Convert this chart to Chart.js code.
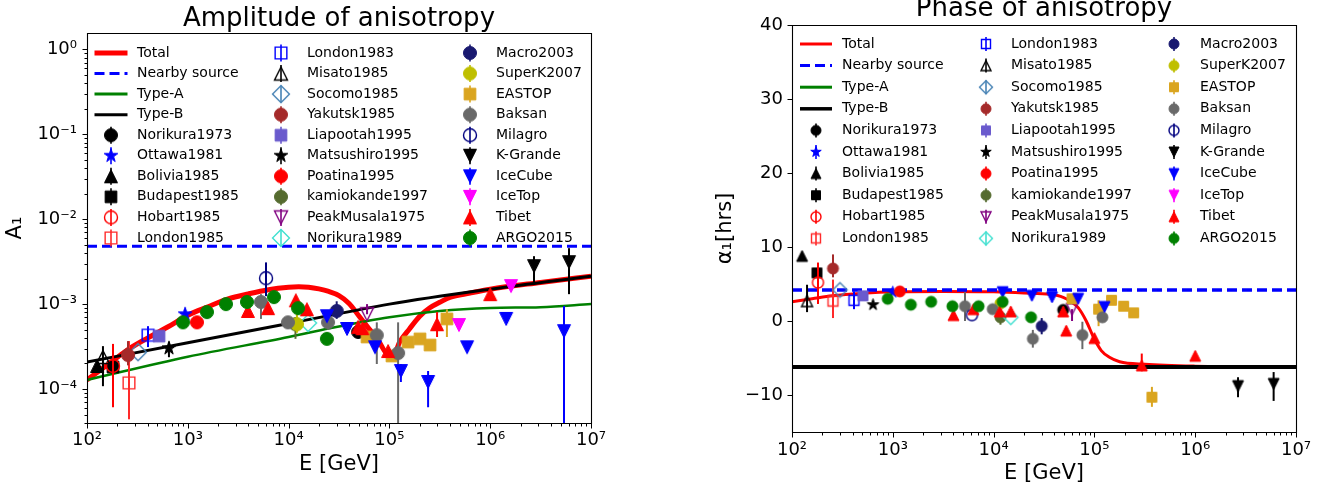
<!DOCTYPE html>
<html>
<head>
<meta charset="utf-8">
<title>Amplitude and phase of anisotropy</title>
<script src="https://cdn.jsdelivr.net/npm/chart.js@4.4.1/dist/chart.umd.min.js"></script>
<style>
  html, body { margin: 0; padding: 0; background: #ffffff; }
  #wrap { position: relative; width: 1325px; height: 488px; overflow: hidden; background: #fff; }
  #ampChart { position: absolute; left: 0; top: 0; width: 660px; height: 488px; }
  #phaseChart { position: absolute; left: 660px; top: 0; width: 665px; height: 488px; }
</style>
</head>
<body>
<div id="wrap">
  <canvas id="ampChart" width="660" height="488"></canvas>
  <canvas id="phaseChart" width="665" height="488"></canvas>
</div>
<script>
// ---------------- DATA ----------------
const lineNames = ['Total', 'Nearby source', 'Type-A', 'Type-B'];
const seriesNames = ['Norikura1973','Ottawa1981','Bolivia1985','Budapest1985','Hobart1985','London1985',
  'London1983','Misato1985','Socomo1985','Yakutsk1985','Liapootah1995','Matsushiro1995','Poatina1995',
  'kamiokande1997','PeakMusala1975','Norikura1989','Macro2003','SuperK2007','EASTOP','Baksan','Milagro',
  'K-Grande','IceCube','IceTop','Tibet','ARGO2015'];

const xRange = [1e2, 1e7];
const xTickValues = [1e2, 1e3, 1e4, 1e5, 1e6, 1e7];
const xTickLabels = ['10²', '10³', '10⁴', '10⁵', '10⁶', '10⁷'];
const ampRange = [3.98e-5, 1.56];
const ampTickValues = [1e-4, 1e-3, 1e-2, 1e-1, 1];
const ampTickLabels = ['10⁻⁴', '10⁻³', '10⁻²', '10⁻¹', '10⁰'];
const phaseRange = [-15, 40];
const phaseTickValues = [-10, 0, 10, 20, 30, 40];
const phaseTickLabels = ['−10', '0', '10', '20', '30', '40'];

// model curves: amplitude
const ampTotalE = [100,158,251,398,631,1000,1585,2512,3981,6310,1e4,1.26e4,1.58e4,2e4,2.5e4,3.16e4,3.98e4,5.01e4,6.31e4,7.94e4,9.55e4,1.1e5,1.26e5,1.58e5,2e5,2.5e5,3.16e5,3.98e5,6.31e5,1e6,3.16e6,1e7];
const ampTotal = [1.28e-4,1.9e-4,2.88e-4,3.98e-4,5.37e-4,7.4e-4,9.3e-4,1.15e-3,1.32e-3,1.48e-3,1.58e-3,1.6e-3,1.58e-3,1.51e-3,1.41e-3,1.26e-3,1.02e-3,7.2e-4,5.1e-4,3.55e-4,2.57e-4,2.5e-4,3.55e-4,5.1e-4,7.2e-4,9.0e-4,1.05e-3,1.2e-3,1.35e-3,1.5e-3,1.8e-3,2.13e-3];
const ampNearbyE = [1e2, 1e7];
const ampNearby = [4.8e-3, 4.8e-3];
const ampTypeAE = [100, 1000, 1e4, 2.57e4, 1e5, 3.16e5, 1e6, 3.16e6, 1e7];
const ampTypeA = [1.28e-4, 2.4e-4, 4.1e-4, 5.2e-4, 7.0e-4, 8.3e-4, 9.0e-4, 9.2e-4, 1.0e-3];
const ampTypeBE = [100, 1000, 1e4, 1e5, 1e6, 1e7];
const ampTypeB = [2.08e-4, 3.5e-4, 5.9e-4, 1.0e-3, 1.5e-3, 2.13e-3];

// model curves: phase
const phaseTotalE = [100,158,251,501,1000,3162,1e4,2e4,3.63e4,4.9e4,5.75e4,6.9e4,8.3e4,9.8e4,1.17e5,1.41e5,1.78e5,3.16e5,1e6,1e7];
const phaseTotal = [2.6,3.0,3.4,3.75,3.95,4.0,3.95,3.8,3.6,3.2,2.7,1.8,0.0,-2.2,-4.0,-4.9,-5.5,-5.85,-6.1,-6.2];
const phaseNearbyE = [1e2, 1e7];
const phaseNearby = [4.2, 4.2];
const phaseTypeAE = [1e2, 1e7];
const phaseTypeA = [-6.2, -6.2];
const phaseTypeBE = [1e2, 1e7];
const phaseTypeB = [-6.2, -6.2];

// amplitude measurements: [E (GeV), A1, lower, upper]
const ampNorikura1973 = [[4.9e4, 4.7e-4]];
const ampOttawa1981 = [[940, 7.6e-4, 6.3e-4, 8.7e-4]];
const ampBolivia1985 = [[126, 1.87e-4]];
const ampBudapest1985 = [[181, 1.82e-4]];
const ampHobart1985 = [[181, 1.87e-4, 6.1e-5, 3.4e-4]];
const ampLondon1985 = [[261, 1.18e-4, 4.4e-5, 3.67e-4]];
const ampLondon1983 = [[403, 4.3e-4, 3.12e-4, 5.5e-4]];
const ampMisato1985 = [[144, 2.38e-4, 1.08e-4, 3.2e-4]];
const ampSocomo1985 = [[321, 2.72e-4]];
const ampYakutsk1985 = [[255, 2.51e-4, 1.9e-4, 3.67e-4]];
const ampLiapootah1995 = [[518, 4.2e-4]];
const ampMatsushiro1995 = [[650, 3.03e-4, 2.37e-4, 3.6e-4]];
const ampPoatina1995 = [[1233, 6.1e-4]];
const ampKamiokande1997 = [[1.17e4, 5.8e-4, 3.9e-4, 7.0e-4]];
const ampPeakMusala1975 = [[6.0e4, 7.6e-4, 7.6e-4, 1.0e-3]];
const ampNorikura1989 = [[1.56e4, 6.0e-4]];
const ampMacro2003 = [[3.0e4, 8.3e-4, 6.7e-4, 1.08e-3]];
const ampSuperK2007 = [[1.21e4, 5.8e-4, 4.6e-4, 7.6e-4]];
const ampEASTOP = [[6.0e4, 4.1e-4], [1.06e5, 2.45e-4], [1.53e5, 3.57e-4], [2.01e5, 3.9e-4], [2.53e5, 3.3e-4, 2.9e-4, 3.6e-4], [3.72e5, 6.7e-4, 4.1e-4, 8.7e-4]];
const ampBaksan = [[5320, 1.06e-3, 6.7e-4, 1.31e-3], [9860, 6.1e-4], [2.46e4, 6.1e-4, 5.0e-4, 7.2e-4], [7.5e4, 4.3e-4, 1.97e-4, 6.1e-4], [1.22e5, 2.65e-4, 1e-5, 6.1e-4]];
const ampMilagro = [[5970, 2.02e-3, 1.24e-3, 3.1e-3]];
const ampKGrande = [[2.72e6, 2.8e-3, 1.82e-3, 3.67e-3], [6.05e6, 3.12e-3, 1.31e-3, 4.56e-3]];
const ampIceCube = [[2.4e4, 7.2e-4], [3.8e4, 5.1e-4], [7.2e4, 3.1e-4], [1.3e5, 1.63e-4, 1.21e-4, 1.97e-4], [2.42e5, 1.21e-4, 6.1e-5, 1.63e-4], [5.9e5, 3.1e-4], [1.44e6, 6.7e-4], [5.4e6, 4.8e-4, 1e-5, 9.5e-4]];
const ampIceTop = [[4.9e5, 5.67e-4], [1.61e6, 1.63e-3]];
const ampTibet = [[3950, 8.3e-4], [6250, 8.97e-4], [1.18e4, 1.11e-3], [1.52e4, 8.7e-4], [4.9e4, 5.4e-4], [5.4e4, 5.2e-4], [9.7e4, 2.8e-4], [2.97e5, 5.8e-4, 4.1e-4, 8.05e-4], [1.0e6, 1.31e-3]];
const ampARGO2015 = [[896, 6.1e-4], [1549, 8.05e-4], [2393, 1.0e-3], [3865, 1.06e-3], [7160, 1.21e-3], [1.24e4, 8.97e-4], [2.4e4, 3.9e-4]];

// phase measurements: [E (GeV), alpha1 (hrs), lower, upper]
const phNorikura1973 = [[4.9e4, 1.5]];
const phOttawa1981 = [[1000, 3.9]];
const phBolivia1985 = [[126, 8.8]];
const phBudapest1985 = [[177, 6.5]];
const phHobart1985 = [[181, 5.2, 2.3, 7.9]];
const phLondon1985 = [[255, 2.7, 0.4, 5.6]];
const phLondon1983 = [[412, 2.8, 1.6, 4.0]];
const phMisato1985 = [[141, 2.7, 1.2, 4.9]];
const phSocomo1985 = [[299, 4.2]];
const phYakutsk1985 = [[255, 7.1, 5.9, 9.0]];
const phLiapootah1995 = [[506, 3.4]];
const phMatsushiro1995 = [[637, 2.2]];
const phPoatina1995 = [[1175, 4.0]];
const phKamiokande1997 = [[1.17e4, 0.5, -0.5, 1.5]];
const phPeakMusala1975 = [[6.0e4, 1.6, 0.0, 1.6]];
const phNorikura1989 = [[1.48e4, 0.5]];
const phMacro2003 = [[3.0e4, -0.7, -1.8, 0.4]];
const phSuperK2007 = [[1.17e4, 2.4]];
const phEASTOP = [[6.0e4, 3.0], [1.1e5, 1.6, -0.7, 2.8], [1.48e5, 2.8], [1.95e5, 2.0], [2.45e5, 1.1], [3.72e5, -10.3, -11.6, -8.9]];
const phBaksan = [[5200, 2.0, 0.0, 3.9], [9800, 1.6], [2.45e4, -2.4, -3.6, -1.2], [7.6e4, -1.9, -3.8, -0.1], [1.2e5, 0.5]];
const phMilagro = [[6100, 0.8]];
const phKGrande = [[2.66e6, -8.8, -10.3, -7.6], [6.0e6, -8.5, -10.8, -6.9]];
const phIceCube = [[1.23e4, 3.9], [2.4e4, 3.4], [3.8e4, 3.2], [6.9e4, 3.0], [1.26e5, 1.9]];
const phIceTop = [];
const phTibet = [[4000, 0.8], [6300, 1.6], [1.15e4, 1.3], [1.48e4, 1.3], [4.9e4, 1.3], [5.25e4, -1.3, -1.8, -0.8], [1.0e5, -2.3], [2.95e5, -6.0, -6.8, -4.4], [1.0e6, -4.7]];
const phARGO2015 = [[890, 3.0], [1510, 2.2], [2400, 2.6], [3900, 2.0], [7100, 2.0], [1.23e4, 2.6], [2.35e4, 0.5]];

const ampSeries = [ampNorikura1973, ampOttawa1981, ampBolivia1985, ampBudapest1985, ampHobart1985, ampLondon1985,
  ampLondon1983, ampMisato1985, ampSocomo1985, ampYakutsk1985, ampLiapootah1995, ampMatsushiro1995, ampPoatina1995,
  ampKamiokande1997, ampPeakMusala1975, ampNorikura1989, ampMacro2003, ampSuperK2007, ampEASTOP, ampBaksan, ampMilagro,
  ampKGrande, ampIceCube, ampIceTop, ampTibet, ampARGO2015];
const phaseSeries = [phNorikura1973, phOttawa1981, phBolivia1985, phBudapest1985, phHobart1985, phLondon1985,
  phLondon1983, phMisato1985, phSocomo1985, phYakutsk1985, phLiapootah1995, phMatsushiro1995, phPoatina1995,
  phKamiokande1997, phPeakMusala1975, phNorikura1989, phMacro2003, phSuperK2007, phEASTOP, phBaksan, phMilagro,
  phKGrande, phIceCube, phIceTop, phTibet, phARGO2015];

// ---------------- STYLE ----------------
const FONT = "'DejaVu Sans', 'Liberation Sans', sans-serif";
const lineColors = ['#ff0000', '#0000ff', '#008000', '#000000'];
const markerStyle = {
  Norikura1973: ['o', '#000000', false], Ottawa1981: ['*', '#0000ff', false], Bolivia1985: ['^', '#000000', false],
  Budapest1985: ['s', '#000000', false], Hobart1985: ['o', '#ff0000', true], London1985: ['s', '#ff2a2a', true],
  London1983: ['s', '#0000ff', true], Misato1985: ['^', '#000000', true], Socomo1985: ['D', '#4682b4', true],
  Yakutsk1985: ['o', '#a52a2a', false], Liapootah1995: ['s', '#6a5acd', false], Matsushiro1995: ['*', '#000000', false],
  Poatina1995: ['o', '#ff0000', false], kamiokande1997: ['o', '#556b2f', false], PeakMusala1975: ['v', '#800080', true],
  Norikura1989: ['D', '#40e0d0', true], Macro2003: ['o', '#191970', false], SuperK2007: ['o', '#bfbf00', false],
  EASTOP: ['s', '#daa520', false], Baksan: ['o', '#696969', false], Milagro: ['o', '#000080', true],
  'K-Grande': ['v', '#000000', false], IceCube: ['v', '#0000ff', false], IceTop: ['v', '#ff00ff', false],
  Tibet: ['^', '#ff0000', false], ARGO2015: ['o', '#008000', false]
};

function mkMarker(shape, size, color, open, lw) {
  const pad = 3;
  const S = Math.round(size * 1.4 + 2 * pad);
  const c = document.createElement('canvas');
  c.width = S; c.height = S;
  const g = c.getContext('2d');
  const m = S / 2, r = size / 2;
  g.beginPath();
  if (shape === 'o') g.arc(m, m, r, 0, Math.PI * 2);
  else if (shape === 's') { const h = r * 0.9; g.rect(m - h, m - h, 2 * h, 2 * h); }
  else if (shape === '^') { g.moveTo(m, m - r); g.lineTo(m + r, m + r); g.lineTo(m - r, m + r); g.closePath(); }
  else if (shape === 'v') { g.moveTo(m, m + r); g.lineTo(m + r, m - r); g.lineTo(m - r, m - r); g.closePath(); }
  else if (shape === 'D') { const d = r * 1.3; g.moveTo(m, m - d); g.lineTo(m + d, m); g.lineTo(m, m + d); g.lineTo(m - d, m); g.closePath(); }
  else if (shape === '*') {
    const R = r * 1.1, ri = R * 0.382;
    for (let k = 0; k < 10; k++) {
      const a = -Math.PI / 2 + k * Math.PI / 5, rr = (k % 2) ? ri : R;
      const px = m + rr * Math.cos(a), py = m + rr * Math.sin(a);
      if (k) g.lineTo(px, py); else g.moveTo(px, py);
    }
    g.closePath();
  }
  if (open) { g.lineWidth = lw; g.strokeStyle = color; g.stroke(); }
  else { g.fillStyle = color; g.fill(); g.lineWidth = 1; g.strokeStyle = color; g.stroke(); }
  return c;
}

function logMinors(lo, hi) {
  const out = [];
  for (let n = Math.floor(Math.log10(lo)) - 1; n <= Math.ceil(Math.log10(hi)); n++) {
    for (let k = 2; k <= 9; k++) { const v = k * Math.pow(10, n); if (v > lo && v < hi) out.push(v); }
  }
  return out;
}

// ---------------- PLUGINS ----------------
const errPlugin = {
  id: 'errbars',
  beforeDatasetDraw(chart, args) {
    const ds = chart.data.datasets[args.index];
    if (!ds.errColor) return;
    const { ctx, chartArea: a, scales: { x, y } } = chart;
    ctx.save();
    ctx.beginPath(); ctx.rect(a.left, a.top, a.width, a.height); ctx.clip();
    ctx.strokeStyle = ds.errColor; ctx.lineWidth = ds.errWidth;
    ds.data.forEach(p => {
      if (p.lo == null || p.hi == null) return;
      const px = x.getPixelForValue(p.x);
      ctx.beginPath();
      ctx.moveTo(px, y.getPixelForValue(p.lo));
      ctx.lineTo(px, y.getPixelForValue(p.hi));
      ctx.stroke();
    });
    ctx.restore();
  }
};

const framePlugin = {
  id: 'mplFrame',
  afterDatasetsDraw(chart, args, o) {
    const { ctx, chartArea: a, scales: { x, y } } = chart;
    ctx.save();
    ctx.strokeStyle = '#000'; ctx.lineWidth = 1.1;
    const L = Math.round(a.left) + 0.5, T = Math.round(a.top) + 0.5, R = Math.round(a.right) + 0.5, B = Math.round(a.bottom) + 0.5;
    ctx.beginPath(); ctx.moveTo(L, T); ctx.lineTo(R, T); ctx.lineTo(R, B); ctx.lineTo(L, B); ctx.closePath(); ctx.stroke();
    ctx.lineWidth = 1;
    const seg = (x0, y0, x1, y1) => { ctx.beginPath(); ctx.moveTo(x0, y0); ctx.lineTo(x1, y1); ctx.stroke(); };
    o.xMajor.forEach(v => { const px = Math.round(x.getPixelForValue(v)) + 0.5; seg(px, B, px, B + 5); });
    o.xMinor.forEach(v => { const px = Math.round(x.getPixelForValue(v)) + 0.5; seg(px, B, px, B + 3); });
    o.yMajor.forEach(v => { const py = Math.round(y.getPixelForValue(v)) + 0.5; seg(L, py, L - 5, py); });
    o.yMinor.forEach(v => { const py = Math.round(y.getPixelForValue(v)) + 0.5; seg(L, py, L - 3, py); });
    ctx.restore();
  }
};

const legendPlugin = {
  id: 'mplLegend',
  afterDraw(chart, args, o) {
    const ctx = chart.ctx;
    ctx.save();
    chart.data.datasets.forEach((ds, i) => {
      const col = Math.floor(i / o.rows), row = i % o.rows;
      const cx = o.markerX[col], cy = o.y0 + row * o.dy;
      if (ds.legendKind === 'line') {
        ctx.strokeStyle = ds.borderColor; ctx.lineWidth = ds.legendWidth;
        ctx.setLineDash(ds.borderDash || []);
        ctx.beginPath(); ctx.moveTo(cx - o.lineHalf, cy); ctx.lineTo(cx + o.lineHalf, cy); ctx.stroke();
        ctx.setLineDash([]);
      } else {
        ctx.strokeStyle = ds.errColor; ctx.lineWidth = 1.6;
        ctx.beginPath(); ctx.moveTo(cx, cy - o.errHalf); ctx.lineTo(cx, cy + o.errHalf); ctx.stroke();
        const im = ds.legendMarker;
        ctx.drawImage(im, cx - im.width / 2, cy - im.height / 2);
      }
      ctx.fillStyle = '#000';
      ctx.font = o.fontSize + 'px ' + FONT;
      ctx.textAlign = 'left'; ctx.textBaseline = 'middle';
      ctx.fillText(ds.label, o.textX[col], cy);
    });
    ctx.restore();
  }
};

// ---------------- BUILD ----------------
function makeChart(canvasId, o) {
  const datasets = [];
  o.lines.forEach((Ln, i) => {
    datasets.push({
      type: 'line', label: lineNames[i],
      data: Ln[0].map((e, k) => ({ x: e, y: Ln[1][k] })),
      borderColor: lineColors[i], borderWidth: o.lineW[i], borderDash: i === 1 ? [10, 5] : [],
      pointRadius: 0, fill: false, cubicInterpolationMode: 'monotone',
      legendKind: 'line', legendWidth: o.legLineW[i], order: -datasets.length
    });
  });
  seriesNames.forEach((name, i) => {
    const st = markerStyle[name];
    datasets.push({
      type: 'scatter', label: name,
      data: o.series[i].map(r => ({ x: r[0], y: r[1], lo: r.length > 2 ? r[2] : null, hi: r.length > 3 ? r[3] : null })),
      pointStyle: mkMarker(st[0], o.mSize, st[1], st[2], 1.4),
      pointRadius: o.mSize / 2, pointHoverRadius: o.mSize / 2, showLine: false,
      errColor: st[1], errWidth: 2,
      legendKind: 'marker', legendMarker: mkMarker(st[0], o.legSize, st[1], st[2], 1.4),
      order: -datasets.length
    });
  });

  const yScale = o.yLog ? {
    type: 'logarithmic', min: o.yRange[0], max: o.yRange[1], bounds: 'data'
  } : {
    type: 'linear', min: o.yRange[0], max: o.yRange[1], bounds: 'data'
  };
  Object.assign(yScale, {
    position: 'left',
    afterBuildTicks: ax => { ax.ticks = o.yTicks.map(v => ({ value: v })); },
    afterFit: ax => { ax.width = o.yAxisW; },
    ticks: { autoSkip: false, padding: o.yTickPad, color: '#000', font: { family: FONT, size: 18 },
      callback: v => { const k = o.yTicks.indexOf(v); return k >= 0 ? o.yLabels[k] : ''; } },
    grid: { display: false, drawTicks: false }, border: { display: false },
    title: { display: true, text: o.yTitle, color: '#000', font: { family: FONT, size: 21 }, padding: { top: o.yTitlePad, bottom: 0 } }
  });

  return new Chart(document.getElementById(canvasId), {
    type: 'scatter',
    data: { datasets },
    plugins: [errPlugin, framePlugin, legendPlugin],
    options: {
      responsive: false, animation: false, events: [],
      layout: { padding: { left: 0, right: o.padRight, top: 0, bottom: 0 } },
      plugins: {
        legend: { display: false }, tooltip: { enabled: false },
        title: { display: true, text: o.title, fullSize: false, color: '#000',
          font: { family: FONT, size: 26, weight: 'normal', lineHeight: o.titleLH }, padding: o.titlePad },
        mplFrame: { xMajor: xTickValues, xMinor: logMinors(xRange[0], xRange[1]),
          yMajor: o.yTicks, yMinor: o.yLog ? logMinors(o.yRange[0], o.yRange[1]) : [] },
        mplLegend: o.legend
      },
      scales: {
        x: {
          type: 'logarithmic', position: 'bottom', min: xRange[0], max: xRange[1], bounds: 'data',
          afterBuildTicks: ax => { ax.ticks = xTickValues.map(v => ({ value: v })); },
          afterFit: ax => { ax.height = o.xAxisH; },
          ticks: { autoSkip: false, maxRotation: 0, minRotation: 0, padding: o.xTickPad, color: '#000',
            font: { family: FONT, size: 18 },
            callback: v => { const k = xTickValues.indexOf(v); return k >= 0 ? xTickLabels[k] : ''; } },
          grid: { display: false, drawTicks: false }, border: { display: false },
          title: { display: true, text: 'E [GeV]', color: '#000', font: { family: FONT, size: 21 },
            padding: { top: 0, bottom: o.xTitlePad } }
        },
        y: yScale
      }
    }
  });
}

makeChart('ampChart', {
  title: 'Amplitude of anisotropy', titleLH: 1.0, titlePad: { top: 6, bottom: 1 },
  lines: [[ampTotalE, ampTotal], [ampNearbyE, ampNearby], [ampTypeAE, ampTypeA], [ampTypeBE, ampTypeB]],
  lineW: [5, 3, 2.5, 3], legLineW: [5, 3, 3, 3],
  series: ampSeries, mSize: 13, legSize: 13,
  yLog: true, yRange: ampRange, yTicks: ampTickValues, yLabels: ampTickLabels,
  yAxisW: 87, yTickPad: 10, yTitle: 'A₁', yTitlePad: 3.4,
  xAxisH: 65, xTickPad: 6.7, xTitlePad: 10.4, padRight: 69,
  legend: { rows: 10, y0: 53, dy: 20.55, markerX: [111, 281, 470], textX: [137, 307, 496],
    lineHalf: 16.5, errHalf: 8.5, fontSize: 14 }
});

makeChart('phaseChart', {
  title: 'Phase of anisotropy', titleLH: 0.5, titlePad: { top: 3, bottom: 9 },
  lines: [[phaseTotalE, phaseTotal], [phaseNearbyE, phaseNearby], [phaseTypeAE, phaseTypeA], [phaseTypeBE, phaseTypeB]],
  lineW: [3, 3.5, 3, 4], legLineW: [3, 3, 3, 3.5],
  series: phaseSeries, mSize: 11, legSize: 10,
  yLog: false, yRange: phaseRange, yTicks: phaseTickValues, yLabels: phaseTickLabels,
  yAxisW: 132, yTickPad: 9, yTitle: 'α₁[hrs]', yTitlePad: 53.4,
  xAxisH: 56, xTickPad: 7.2, xTitlePad: 1.9, padRight: 29,
  legend: { rows: 10, y0: 44, dy: 21.6, markerX: [156, 326, 514], textX: [182, 351, 540],
    lineHalf: 16, errHalf: 7, fontSize: 14 }
});
</script>
</body>
</html>
